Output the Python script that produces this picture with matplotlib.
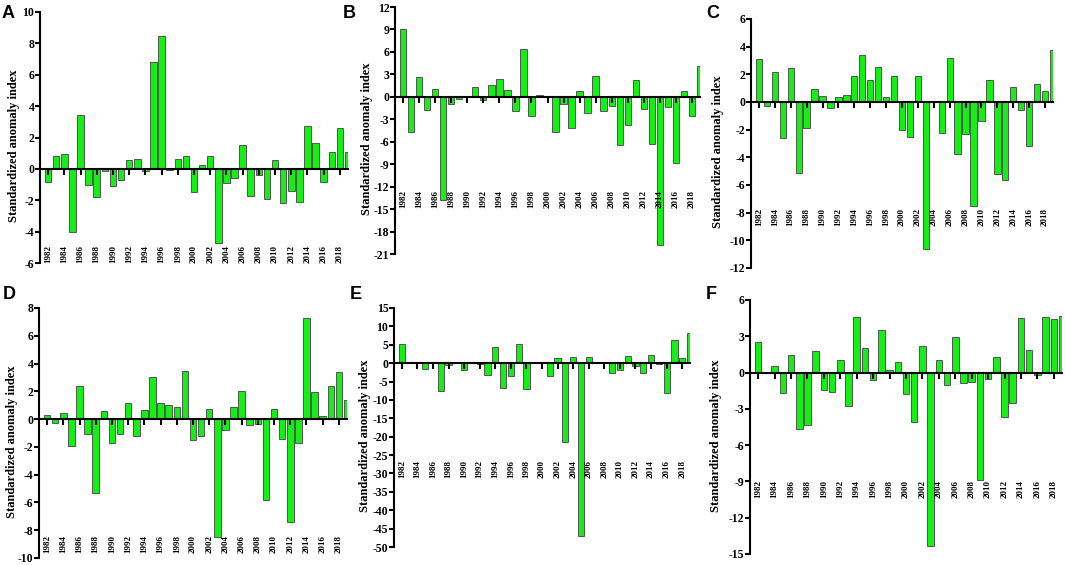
import matplotlib
matplotlib.use('Agg')
import matplotlib.pyplot as plt
from matplotlib.ticker import MultipleLocator, FixedLocator

years = list(range(1982, 2020))
label_years = list(range(1982, 2019, 2))
panel_letters = ['A', 'B', 'C', 'D', 'E', 'F']
y_title = 'Standardized anomaly index'

a_values = [-0.85, 0.8, 0.95, -4.0, 3.45, -1.05, -1.8, -0.15, -1.1, -0.7,
            0.55, 0.6, -0.15, 6.8, 8.5, -0.05, 0.65, 0.8, -1.5, 0.25,
            0.8, -4.75, -0.9, -0.6, 1.5, -1.7, -0.4, -1.9, 0.55, -2.2,
            -1.4, -2.1, 2.75, 1.65, -0.85, 1.05, 2.6, 1.1]
b_values = [9.1, -4.65, 2.7, -1.7, 1.0, -13.8, -1.0, -0.25, 0.15, 1.25,
            -0.45, 1.6, 2.35, 0.95, -1.95, 6.45, -2.5, 0.25, -0.05, -4.65,
            -1.0, -4.2, 0.75, -2.15, 2.75, -1.9, -1.25, -6.45, -3.75, 2.3,
            -1.65, -6.35, -19.8, -1.35, -8.9, 0.8, -2.5, 4.1]
c_values = [3.1, -0.3, 2.15, -2.6, 2.45, -5.15, -1.9, 0.95, 0.45, -0.4,
            0.35, 0.5, 1.9, 3.4, 1.6, 2.5, 0.35, 1.85, -2.0, -2.5,
            1.85, -10.6, 0.0, -2.25, 3.2, -3.75, -2.3, -7.5, -1.35, 1.6,
            -5.2, -5.65, 1.05, -0.6, -3.15, 1.3, 0.8, 3.75]
d_values = [0.3, -0.25, 0.45, -1.9, 2.4, -1.05, -5.3, 0.6, -1.7, -1.1,
            1.15, -1.2, 0.65, 3.0, 1.15, 1.0, 0.85, 3.45, -1.5, -1.2,
            0.7, -8.5, -0.75, 0.9, 2.0, -0.45, -0.35, -5.85, 0.7, -1.4,
            -7.4, -1.75, 7.25, 1.95, 0.25, 2.35, 3.4, 1.35]
e_values = [5.2, 0.3, 0.0, -1.7, 0.0, -7.7, -0.6, 0.0, -1.8, 0.4,
            -0.3, -3.1, 4.4, -6.8, -3.4, 5.1, -7.0, 0.0, 0.1, -3.6,
            1.3, -21.5, 1.8, -47.0, 1.8, 0.3, 0.0, -2.6, -1.8, 1.9,
            -0.9, -2.8, 2.1, -0.3, -8.2, 6.3, 1.4, 8.3]
f_values = [2.5, 0.0, 0.55, -1.7, 1.45, -4.7, -4.3, 1.75, -1.45, -1.6,
            1.05, -2.75, 4.6, 2.05, -0.6, 3.5, 0.2, 0.9, -1.75, -4.1,
            2.2, -14.3, 1.0, -1.05, 2.95, -0.9, -0.8, -8.9, -0.5, 1.3,
            -3.7, -2.55, 4.5, 1.9, -0.2, 4.6, 4.45, 4.7]

series = [a_values, b_values, c_values, d_values, e_values, f_values]
y_limits = [(-6, 10), (-21, 12), (-12, 6), (-10, 8), (-50, 15), (-15, 6)]
y_steps = [2, 3, 2, 2, 5, 3]

# layout in pixels: (left, right, top, bottom)
boxes = [(40, 348, 12, 263), (395, 700, 7, 254), (751, 1053, 19, 268),
         (39, 347, 308, 558), (394, 690, 308, 547), (750, 1062, 300, 554)]
label_tops = [0.072, 0.26, 0.24, 0.092, 0.364, 0.29]
letter_pos = [(2, 5), (343, 5), (706, 5), (3, 286), (350, 286), (706, 286)]
ylab_dx = [26, 28, 33, 27, 29, 34]

plt.rcParams['axes.unicode_minus'] = False

W, H = 1065, 565
fig = plt.figure(figsize=(W / 100, H / 100), dpi=100)
serif = 'Liberation Serif'
bar_color = '#14F014'

for i in range(6):
    l, r, t, b = boxes[i]
    ax = fig.add_axes([l / W, 1 - b / H, (r - l) / W, (b - t) / H])
    ax.bar(years, series[i], width=0.8, color=bar_color,
           edgecolor='#555555', linewidth=0.7, zorder=1)
    ax.set_xlim(1981.0, 2019.0)
    ax.set_ylim(*y_limits[i])
    ax.yaxis.set_major_locator(MultipleLocator(y_steps[i]))
    for s in ['top', 'right']:
        ax.spines[s].set_visible(False)
    ax.spines['bottom'].set_position(('data', 0))
    ax.spines['left'].set_linewidth(1.5)
    ax.spines['bottom'].set_linewidth(1.5)
    ax.xaxis.set_major_locator(FixedLocator(label_years))
    ax.tick_params(axis='x', direction='out', length=4.5, width=1.5,
                   labelbottom=False)
    ax.tick_params(axis='y', direction='out', length=3.5, width=1.5,
                   labelsize=8.5, pad=0.5)
    for lab in ax.get_yticklabels():
        lab.set_fontfamily(serif)
        lab.set_fontweight('bold')
    ax.patch.set_alpha(0)
    for yr in label_years:
        ax.text(yr, label_tops[i], str(yr), transform=ax.get_xaxis_transform(),
                rotation=90, ha='center', va='top', fontsize=6.5,
                fontfamily=serif, fontweight='bold', zorder=3)
    ax.set_ylabel(y_title, fontsize=9, fontfamily=serif, fontweight='bold',
                  va='center')
    ax.yaxis.set_label_coords(-ylab_dx[i] / (r - l), 0.467)
    lx, ly = letter_pos[i]
    fig.text(lx / W, 1 - ly / H, panel_letters[i], fontsize=13,
             fontfamily='Liberation Sans', fontweight='bold',
             ha='left', va='top')

fig.savefig('out.png', dpi=100)
